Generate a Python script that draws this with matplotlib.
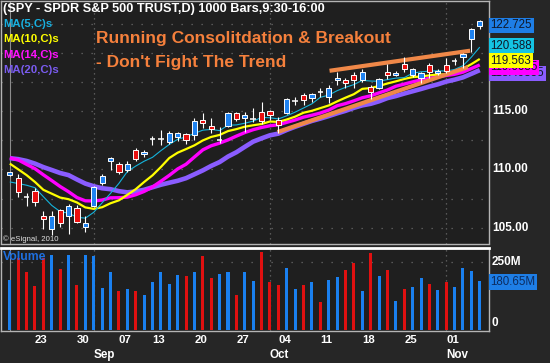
"""
SPY daily candles with moving averages and volume, eSignal style
"""
import numpy as np
import pandas as pd
import matplotlib
matplotlib.use("Agg")
import matplotlib.pyplot as plt

plt.rcParams['font.family'] = ['Liberation Sans', 'DejaVu Sans']

# closes before the first visible bar (only used to warm up the averages)
prior_closes = [109.72, 110.62, 111.85, 111.73, 110.96, 110.50, 110.51, 112.94, 112.40, 113.07,
                112.93, 112.51, 113.13, 112.46, 109.30, 108.71, 108.28, 108.29, 109.60]

opens = [109.55, 109.23, 107.60, 108.14, 106.00, 104.86, 106.52, 106.03, 106.66, 105.03,
         106.86, 108.80, 110.71, 110.43, 109.94, 111.66, 111.29, 112.58, 112.57, 112.37,
         112.80, 113.00, 112.94, 114.23, 113.71, 112.55, 113.74, 114.80, 114.43, 114.30,
         114.89, 115.00, 114.23, 114.80, 115.86, 116.37, 116.09, 116.62, 116.17, 117.66,
         117.66, 118.08, 117.66, 117.03, 116.94, 118.31, 118.11, 119.00, 118.08, 117.80,
         118.94, 118.23, 118.94, 119.25, 119.65, 121.14, 122.25]
highs = [109.80, 109.58, 107.95, 108.43, 106.43, 106.43, 106.58, 107.00, 106.94, 106.00,
         108.60, 109.58, 111.03, 110.60, 110.74, 111.80, 111.66, 112.88, 113.37, 113.29,
         113.23, 113.09, 114.37, 114.80, 114.37, 113.60, 114.89, 114.94, 114.94, 115.23,
         115.75, 115.09, 114.51, 116.09, 116.23, 116.52, 116.57, 116.94, 117.23, 118.31,
         117.86, 118.37, 118.57, 117.23, 117.80, 119.03, 118.45, 119.65, 118.66, 118.37,
         119.09, 118.57, 119.57, 119.57, 119.94, 122.09, 122.78]
lows = [109.45, 107.60, 106.90, 106.89, 104.86, 104.37, 105.03, 104.46, 105.38, 104.66,
        106.80, 108.66, 109.94, 109.60, 109.80, 110.74, 111.03, 112.09, 112.09, 112.17,
        112.43, 112.17, 112.51, 113.52, 113.09, 112.28, 113.65, 114.14, 113.23, 114.08,
        113.89, 114.23, 113.14, 114.74, 115.51, 115.51, 115.80, 116.23, 115.66, 117.23,
        116.94, 116.94, 117.51, 116.00, 116.86, 117.71, 118.02, 118.37, 117.94, 117.37,
        117.80, 118.08, 118.23, 118.94, 118.66, 120.08, 122.00]
closes = [109.75, 108.03, 107.55, 107.23, 105.75, 106.00, 105.38, 106.89, 105.46, 105.38,
          108.51, 109.43, 110.94, 109.75, 110.43, 110.86, 111.51, 112.62, 112.60, 113.09,
          113.09, 112.51, 114.17, 113.94, 113.43, 112.58, 114.80, 114.31, 114.66, 114.33,
          114.17, 114.66, 113.80, 116.00, 115.90, 115.94, 116.46, 116.58, 116.94, 117.80,
          117.37, 117.66, 118.37, 116.66, 117.71, 118.08, 118.28, 118.60, 118.57, 118.28,
          118.37, 118.43, 118.45, 119.30, 119.88, 122.03, 122.725]
# volume in millions of shares
volume = [185, 265, 212, 162, 265, 275, 225, 275, 166, 275,
          272, 156, 212, 142, 150, 145, 129, 177, 212, 171,
          201, 197, 215, 272, 190, 205, 212, 129, 212, 180,
          287, 175, 166, 229, 150, 166, 177, 104, 185, 194,
          219, 247, 142, 281, 200, 221, 106, 152, 159, 190,
          171, 146, 175, 159, 227, 216, 180.65]

day_ticks = [3, 8, 13, 17, 22, 27, 32, 37, 42, 47, 52]
day_labels = ['23', '30', '07', '13', '20', '27', '04', '11', '18', '25', '01']
month_ticks = [10, 31, 52]
month_labels = ['Sep', 'Oct', 'Nov']

ma_periods = [5, 10, 14, 20]
ma_colors = ['#14b4dc', '#ffff00', '#ff00ff', '#8a5cff']
ma_widths = [0.8, 1.6, 2.4, 3.3]
ma_labels = ['MA(5,C)s', 'MA(10,C)s', 'MA(14,C)s', 'MA(20,C)s']
ma_text_colors = ['#18b0e0', '#ffff00', '#ff10ff', '#7a5cf0']

# last value boxes on the price scale
value_texts = ['122.725', '120.588', '119.563', '119.0055', '118.49355']
value_box_colors = ['#1e7ee6', '#14c4e4', '#ffff00', '#ff00ff', '#8a5cff']

# hand drawn trend lines: (bar, price) end points
upper_line = [(38.1, 118.45), (54.85, 120.17)]
lower_line = [(31.9, 113.2), (54.6, 118.77)]

BLUE = '#1e82f0'
RED = '#e81010'
BG = '#1f1f1f'
FRAME = '#b4b4b4'

o = np.array(opens)
h = np.array(highs)
l = np.array(lows)
c = np.array(closes)
x = np.arange(len(c))
up = c >= o

allc = pd.Series(prior_closes + closes)
mas = [allc.rolling(p).mean().values[len(prior_closes):] for p in ma_periods]

W, H = 550, 363
fig = plt.figure(figsize=(W / 100, H / 100), dpi=100, facecolor='#262626')
ax = fig.add_axes([1 / W, (H - 243.5) / H, 488 / W, 242.5 / H], facecolor=BG)
axv = fig.add_axes([1 / W, (H - 331) / H, 488 / W, 83 / H], facecolor=BG)

for a in (ax, axv):
	a.set_xlim(-1.05, 57.1)
	a.set_xticks([])
	a.set_yticks([])
	for s in a.spines.values():
		s.set_color(FRAME)
		s.set_linewidth(1)
axv.spines['top'].set_color('white')
axv.spines['top'].set_linewidth(2)

ax.set_ylim(103.65, 124.43)
axv.set_ylim(-2.5, 301)

# grid
for p in [105, 107.5, 110, 112.5, 115, 117.5, 120, 122.5]:
	ax.axhline(p, color='#6a6a6a', lw=0.9, ls=(0, (1, 7)), zorder=1)
axv.axhline(250, color='#6a6a6a', lw=0.9, ls=(0, (1, 7)), zorder=1)
for m in month_ticks:
	ax.axvline(m, color='#6a6a6a', lw=0.9, ls=(0, (1, 3)), zorder=1)
	axv.axvline(m, color='#6a6a6a', lw=0.9, ls=(0, (1, 3)), zorder=1)
ax.axvline(0, color='#8c8c8c', lw=0.8, zorder=1)
axv.axvline(0, color='#8c8c8c', lw=0.8, zorder=1)

# moving averages, widest at the back
for k in range(len(ma_periods) - 1, -1, -1):
	ax.plot(x, mas[k], color=ma_colors[k], lw=ma_widths[k], zorder=3 + (3 - k) * 0.1,
			drawstyle='default', solid_capstyle='butt')

# trend lines
for seg in (upper_line, lower_line):
	ax.plot([seg[0][0], seg[1][0]], [seg[0][1], seg[1][1]], color='#f08848', lw=3.0,
			zorder=3.6, solid_capstyle='butt')

# candles
ax.vlines(x, l, h, colors='white', lw=0.8, zorder=4)
doji = np.abs(c - o) < 0.08
body_bot = np.minimum(o, c)
body_h = np.abs(c - o)
cols = np.where(up, BLUE, RED)
ax.bar(x[~doji], body_h[~doji], bottom=body_bot[~doji], width=0.62, color=cols[~doji],
	   edgecolor='white', linewidth=0.7, zorder=5)
ax.hlines(o[doji], x[doji] - 0.33, x[doji] + 0.33, colors='white', lw=1.1, zorder=5)

# volume
vcols = np.where(up, '#1a80f0', '#e01010')
axv.bar(x, volume, width=0.36, color=vcols, zorder=3)

# price scale
yt = ax.get_yaxis_transform()
for p in [105, 110, 115]:
	ax.text(1.006, p, f"{p:.2f}", transform=yt, color='white', fontsize=8.5,
			fontweight='bold', va='center', ha='left', clip_on=False)
shifts = [-3.2, 0, -2.2, -2.3, -2.3]
for k in range(len(value_texts) - 1, -1, -1):
	ax.annotate(value_texts[k], xy=(1.003, float(value_texts[k])), xycoords=yt,
				xytext=(0, shifts[k]), textcoords='offset points',
				color='#101828', fontsize=8.3, va='center', ha='left',
				annotation_clip=False, zorder=10 + (5 - k),
				bbox=dict(facecolor=value_box_colors[k], edgecolor='none', pad=1.2))

vt = axv.get_yaxis_transform()
axv.text(1.006, 250, "250M", transform=vt, color='white', fontsize=8.5,
		 fontweight='bold', va='center', ha='left')
axv.text(1.006, 25, "0", transform=vt, color='white', fontsize=8.5,
		 fontweight='bold', va='center', ha='left')
axv.text(1.003, volume[-1] - 4, f"{volume[-1]:.2f}M", transform=vt, color='#0c2c60',
		 fontsize=8.3, va='center', ha='left',
		 bbox=dict(facecolor='#1e7ee6', edgecolor='none', pad=1.2))

# dates
xt = axv.get_xaxis_transform()
for t, lab in zip(day_ticks, day_labels):
	axv.text(t, -0.108, lab, transform=xt, color='white', fontsize=8.2,
			 fontweight='bold', ha='left', va='center')
for t, lab in zip(month_ticks, month_labels):
	axv.text(t, -0.29, lab, transform=xt, color='white', fontsize=8.4,
			 fontweight='bold', ha='left', va='center')

# texts in pixel positions
def ftext(px, py, s, **kw):
	fig.text(px / W, 1 - py / H, s, va='center', ha='left', **kw)

ftext(3, 9, "(SPY - SPDR S&P 500 TRUST,D) 1000 Bars,9:30-16:00", color='white',
	  fontsize=9.2, fontweight='bold')
for k in range(4):
	ftext(3, 24 + k * 15.4, ma_labels[k], color=ma_text_colors[k], fontsize=8.2,
		  fontweight='bold')
ftext(96, 38, "Running Consolitdation & Breakout", color='#f5803c', fontsize=12.5,
	  fontweight='bold')
ftext(96, 63, "- Don't Fight The Trend", color='#f5803c', fontsize=12.5,
	  fontweight='bold')
ftext(3, 239, "\u00a9 eSignal, 2010", color='#e0e0e0', fontsize=5.6)
ftext(3, 257, "Volume", color='#1e70e0', fontsize=8.8, fontweight='bold')

fig.savefig("out.png", dpi=100, facecolor=fig.get_facecolor())
